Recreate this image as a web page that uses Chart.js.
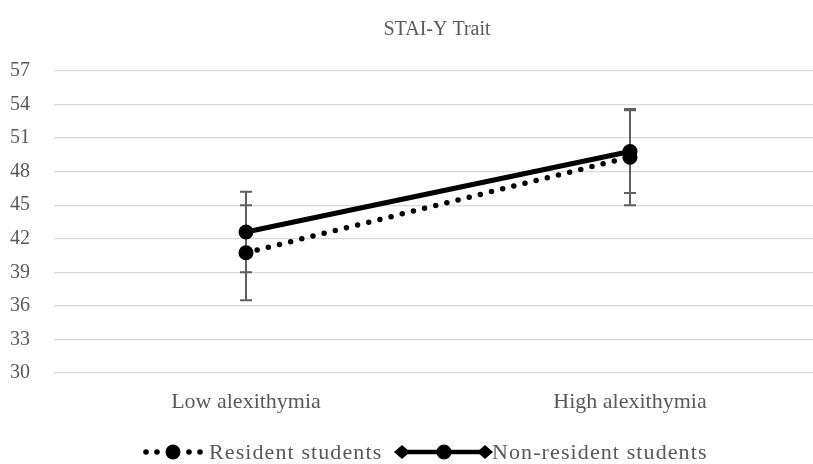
<!DOCTYPE html>
<html><head><meta charset="utf-8">
<script src="https://cdn.jsdelivr.net/npm/chart.js@4.4.0/dist/chart.umd.min.js"></script>
<style>html,body{margin:0;padding:0;background:#fff;overflow:hidden}#wrap{width:830px;height:464px}</style>
</head><body><div id="wrap"><canvas id="c" width="830" height="464"></canvas></div>
<script>
const categories = ["Low alexithymia", "High alexithymia"];
const seriesNames = ["Resident students", "Non-resident students"];
const residentMeans = [40.75, 49.3];
const residentErrors = [4.25, 4.3];
const nonResidentMeans = [42.6, 49.8];
const nonResidentErrors = [3.6, 3.7];
const yTicks = [30, 33, 36, 39, 42, 45, 48, 51, 54, 57];
const chartTitle = "STAI-Y Trait";

const FONT = "'Liberation Serif', 'DejaVu Serif', serif";
const TEXT = '#595959';

const errorBars = {
  id: 'errorBars',
  beforeDatasetsDraw(chart) {
    const ctx = chart.ctx, ys = chart.scales.y;
    chart.data.datasets.forEach((ds, di) => {
      const meta = chart.getDatasetMeta(di);
      meta.data.forEach((pt, i) => {
        const m = ds.data[i], e = ds.errors[i];
        const yt = ys.getPixelForValue(m + e), yb = ys.getPixelForValue(m - e);
        ctx.save();
        ctx.strokeStyle = '#5f5f5f';
        ctx.lineWidth = 2;
        ctx.beginPath();
        ctx.moveTo(pt.x, yt); ctx.lineTo(pt.x, yb);
        ctx.moveTo(pt.x - 6, yt); ctx.lineTo(pt.x + 6, yt);
        ctx.moveTo(pt.x - 6, yb); ctx.lineTo(pt.x + 6, yb);
        ctx.stroke();
        ctx.restore();
      });
    });
  }
};

const titleLegend = {
  id: 'titleLegend',
  afterDraw(chart) {
    const ctx = chart.ctx;
    ctx.save();
    ctx.fillStyle = TEXT;
    ctx.font = "20px " + FONT;
    ctx.textAlign = 'center';
    ctx.textBaseline = 'middle';
    ctx.fillText(chartTitle, 437, 30);

    // legend
    ctx.font = "22px " + FONT;
    ctx.letterSpacing = '1.1px';
    ctx.textAlign = 'left';
    const ly = 452;
    // resident: dotted + circle
    let x0 = 143;
    ctx.fillStyle = '#000';
    [3, 14, 46, 57].forEach(dx => {
      ctx.beginPath(); ctx.arc(x0 + dx, ly, 2.8, 0, Math.PI * 2); ctx.fill();
    });
    ctx.beginPath(); ctx.arc(x0 + 30, ly, 7.5, 0, Math.PI * 2); ctx.fill();
    ctx.fillStyle = TEXT;
    ctx.fillText(seriesNames[0], x0 + 66, ly + 1);

    // non-resident: solid + diamonds + circle
    let x1 = 395;
    ctx.strokeStyle = '#000';
    ctx.fillStyle = '#000';
    ctx.lineWidth = 4.5;
    ctx.beginPath(); ctx.moveTo(x1 + 6, ly); ctx.lineTo(x1 + 90, ly); ctx.stroke();
    [x1 + 7, x1 + 90].forEach(dx => {
      ctx.beginPath();
      ctx.moveTo(dx - 8, ly); ctx.lineTo(dx, ly - 7); ctx.lineTo(dx + 8, ly); ctx.lineTo(dx, ly + 7);
      ctx.closePath(); ctx.fill();
    });
    ctx.beginPath(); ctx.arc(x1 + 49, ly, 7.5, 0, Math.PI * 2); ctx.fill();
    ctx.fillStyle = TEXT;
    ctx.fillText(seriesNames[1], x1 + 97, ly + 1);
    ctx.restore();
  }
};

new Chart(document.getElementById('c'), {
  type: 'line',
  data: {
    labels: categories,
    datasets: [
      {
        label: seriesNames[0], data: residentMeans, errors: residentErrors,
        borderColor: '#000', backgroundColor: '#000', borderWidth: 5.5,
        borderDash: [0, 11.5], borderCapStyle: 'round',
        pointRadius: 7.5, pointBorderWidth: 0, pointBackgroundColor: '#000', tension: 0
      },
      {
        label: seriesNames[1], data: nonResidentMeans, errors: nonResidentErrors,
        borderColor: '#000', backgroundColor: '#000', borderWidth: 5,
        pointRadius: 7.5, pointBorderWidth: 0, pointBackgroundColor: '#000', tension: 0
      }
    ]
  },
  options: {
    responsive: false, animation: false,
    layout: { padding: { left: 0, top: 71, right: 8, bottom: 51 } },
    plugins: { legend: { display: false }, title: { display: false }, tooltip: { enabled: false } },
    scales: {
      x: {
        offset: true,
        grid: { display: false }, border: { display: false },
        ticks: { color: TEXT, font: { family: FONT, size: 22 }, padding: 8, maxRotation: 0 },
        afterFit(s) { s.height = 40; }
      },
      y: {
        min: yTicks[0], max: yTicks[yTicks.length - 1],
        afterBuildTicks(s) { s.ticks = yTicks.map(v => ({ value: v })); },
        grid: { color: '#d9d9d9', lineWidth: 1.3, drawTicks: false },
        border: { display: false },
        ticks: { color: TEXT, font: { family: FONT, size: 20 }, padding: 24 },
        afterFit(s) { s.width = 54; }
      }
    }
  },
  plugins: [errorBars, titleLegend]
});
</script>
</body></html>
